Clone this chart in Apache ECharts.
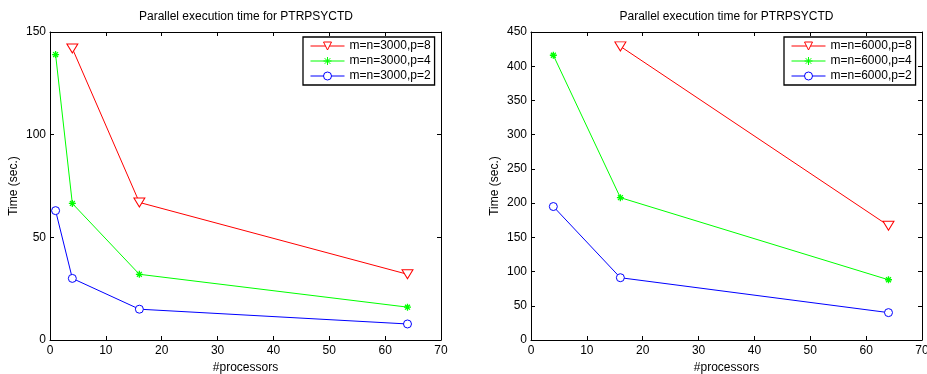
<!DOCTYPE html>
<html>
<head>
<meta charset="utf-8">
<script src="https://cdn.jsdelivr.net/npm/echarts@6/dist/echarts.min.js"></script>
<style>html,body{margin:0;padding:0;background:#fff}#c{width:927px;height:374px}</style>
</head>
<body>
<div id="c"></div>
<script>
// ---- data ----
const chartTitle = 'Parallel execution time for PTRPSYCTD';
const xName = '#processors';
const yName = 'Time (sec.)';

// left panel: m=n=3000
const leftNames = ['m=n=3000,p=8', 'm=n=3000,p=4', 'm=n=3000,p=2'];
const leftP8x = [4, 16, 64];
const leftP8y = [142, 67, 32];
const leftP4x = [1, 4, 16, 64];
const leftP4y = [139, 66.5, 32, 16];
const leftP2x = [1, 4, 16, 64];
const leftP2y = [63, 30, 15, 7.8];

// right panel: m=n=6000
const rightNames = ['m=n=6000,p=8', 'm=n=6000,p=4', 'm=n=6000,p=2'];
const rightP8x = [16, 64];
const rightP8y = [429, 167];
const rightP4x = [4, 16, 64];
const rightP4y = [416, 208, 88];
const rightP2x = [4, 16, 64];
const rightP2y = [195, 91, 40];

const xTicks = [0, 10, 20, 30, 40, 50, 60, 70];
const leftYTicks = [0, 50, 100, 150];
const rightYTicks = [0, 50, 100, 150, 200, 250, 300, 350, 400, 450];

// ---- build ----
const FONT = '"Liberation Sans", Arial, Helvetica, sans-serif';
const zip = (xs, ys) => xs.map((x, i) => [x, ys[i]]);
const RED = '#ff0000', GREEN = '#00ff00', BLUE = '#0000ff';
const triDown = 'path://M0,0 L12,0 L6,10 Z';
const star = 'path://M5,0 L5,10 M0,5 L10,5 M1.5,1.5 L8.5,8.5 M8.5,1.5 L1.5,8.5';
const circ = 'path://M10,5 A5,5 0 1 1 0,5 A5,5 0 1 1 10,5 Z';

function mkSeries(name, data, kind, axisIdx) {
  const base = {
    name, type: 'line', data,
    xAxisIndex: axisIdx, yAxisIndex: axisIdx,
    showAllSymbol: true,
    lineStyle: { width: 1 },
    emphasis: { disabled: true },
    z: 3
  };
  if (kind === 'tri') {
    base.symbol = triDown; base.symbolSize = [11, 9];
    base.lineStyle.color = RED;
    base.itemStyle = { color: '#fff', borderColor: RED, borderWidth: 1 };
  } else if (kind === 'star') {
    base.symbol = star; base.symbolSize = 7;
    base.lineStyle.color = GREEN;
    base.itemStyle = { color: GREEN, borderColor: GREEN, borderWidth: 1.3 };
  } else {
    base.symbol = circ; base.symbolSize = 8;
    base.lineStyle.color = BLUE;
    base.itemStyle = { color: '#fff', borderColor: BLUE, borderWidth: 1 };
  }
  return base;
}

function xAxes(g) {
  const common = {
    type: 'value', gridIndex: g, min: xTicks[0], max: xTicks[xTicks.length - 1],
    interval: xTicks[1] - xTicks[0],
    splitLine: { show: false },
    axisLine: { show: true, onZero: false, lineStyle: { color: '#000', width: 1 } },
    axisTick: { show: true, inside: true, length: 4, lineStyle: { color: '#000' } }
  };
  return [
    Object.assign({}, common, {
      position: 'bottom', name: xName, nameLocation: 'middle', nameGap: 16,
      nameTextStyle: { fontFamily: FONT, fontSize: 12, color: '#000' },
      axisLabel: { fontFamily: FONT, fontSize: 12, color: '#000', margin: 5 }
    }),
    Object.assign({}, common, { position: 'top', axisLabel: { show: false } })
  ];
}
function yAxes(g, ticks) {
  const common = {
    type: 'value', gridIndex: g, min: ticks[0], max: ticks[ticks.length - 1],
    interval: ticks[1] - ticks[0],
    splitLine: { show: false },
    axisLine: { show: true, onZero: false, lineStyle: { color: '#000', width: 1 } },
    axisTick: { show: true, inside: true, length: 4, lineStyle: { color: '#000' } }
  };
  return [
    Object.assign({}, common, {
      position: 'left', name: yName, nameLocation: 'middle', nameGap: 30,
      nameTextStyle: { fontFamily: FONT, fontSize: 12, color: '#000' },
      axisLabel: { fontFamily: FONT, fontSize: 12, color: '#000', margin: 4 }
    }),
    Object.assign({}, common, { position: 'right', axisLabel: { show: false } })
  ];
}

function legend(names, left) {
  return {
    orient: 'vertical', left, top: 37, data: names,
    backgroundColor: '#fff', borderColor: '#000', borderWidth: 1.3, borderRadius: 0,
    padding: [3, 4, 3, 7], itemGap: 3, itemWidth: 34, itemHeight: 10,
    lineStyle: { width: 1 },
    itemStyle: { borderWidth: 1 },
    textStyle: { fontFamily: FONT, fontSize: 12, color: '#000' },
    selectedMode: false
  };
}

const xa = xAxes(0).concat(xAxes(1));
const ya = yAxes(0, leftYTicks).concat(yAxes(1, rightYTicks));
const option = {
  animation: false,
  backgroundColor: '#fff',
  grid: [
    { left: 50, right: 486, top: 32, bottom: 34, outerBoundsMode: 'none', containLabel: false },
    { left: 531, right: 5, top: 32, bottom: 34, outerBoundsMode: 'none', containLabel: false }
  ],
  xAxis: xa,
  yAxis: ya,
  legend: [legend(leftNames, 303), legend(rightNames, 784)],
  graphic: [
    { type: 'text', x: 246, y: 17, style: { text: chartTitle, font: '12px ' + FONT, fill: '#000', align: 'center', verticalAlign: 'middle' } },
    { type: 'text', x: 726.5, y: 17, style: { text: chartTitle, font: '12px ' + FONT, fill: '#000', align: 'center', verticalAlign: 'middle' } }
  ],
  series: [
    mkSeries(leftNames[0], zip(leftP8x, leftP8y), 'tri', 0),
    mkSeries(leftNames[1], zip(leftP4x, leftP4y), 'star', 0),
    mkSeries(leftNames[2], zip(leftP2x, leftP2y), 'circ', 0),
    mkSeries(rightNames[0], zip(rightP8x, rightP8y), 'tri', 2),
    mkSeries(rightNames[1], zip(rightP4x, rightP4y), 'star', 2),
    mkSeries(rightNames[2], zip(rightP2x, rightP2y), 'circ', 2)
  ]
};
const chart = echarts.init(document.getElementById('c'), null, { renderer: 'canvas' });
chart.setOption(option);
</script>
</body>
</html>
